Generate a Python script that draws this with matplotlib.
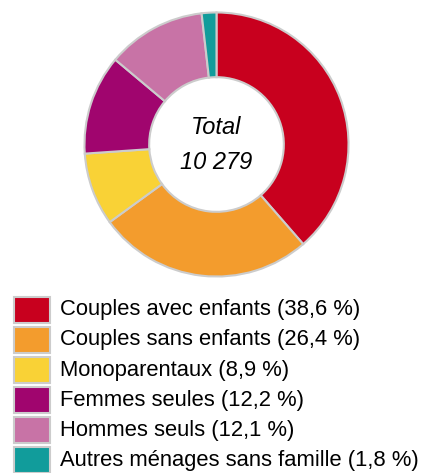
import matplotlib
matplotlib.use("Agg")
import matplotlib.pyplot as plt
from matplotlib.patches import Rectangle

categories = ["Couples avec enfants", "Couples sans enfants", "Monoparentaux",
              "Femmes seules", "Hommes seuls", "Autres ménages sans famille"]
values = [38.6, 26.4, 8.9, 12.2, 12.1, 1.8]
value_labels = ["38,6", "26,4", "8,9", "12,2", "12,1", "1,8"]
colors = ["#C8001E", "#F39C2D", "#F9D236", "#A0056E", "#C873A6", "#119C9B"]
total_label = "10 279"

plt.rcParams['font.family'] = ['Liberation Sans', 'DejaVu Sans']

W, H = 422, 473
fig = plt.figure(figsize=(W / 100, H / 100), dpi=100)

cx, cy, r = 216.5, 144.5, 134
ax = fig.add_axes([(cx - r) / W, (H - cy - r) / H, 2 * r / W, 2 * r / H])
ax.pie(values, colors=colors, startangle=90, counterclock=False, radius=1,
       wedgeprops=dict(width=0.49, edgecolor="#CCCCCC", linewidth=1.5))
ax.set_xlim(-1.015, 1.015)
ax.set_ylim(-1.015, 1.015)
ax.set_aspect("equal")
ax.axis("off")
ax.text(0, 0.13, "Total", ha="center", va="center", fontsize=17, style="italic")
ax.text(0, -0.14, total_label, ha="center", va="center", fontsize=17, style="italic")

row0, step = 310, 30
for i, (cat, lab, col) in enumerate(zip(categories, value_labels, colors)):
    yc = row0 + i * step
    fig.add_artist(Rectangle(((14) / W, (H - yc - 13) / H), 36 / W, 26 / H,
                             transform=fig.transFigure, facecolor=col,
                             edgecolor="#CCCCCC", linewidth=1.5))
    fig.text(60 / W, (H - yc) / H, f"{cat} ({lab} %)", ha="left", va="center",
             fontsize=15.8)

fig.savefig("out.png", dpi=100)
